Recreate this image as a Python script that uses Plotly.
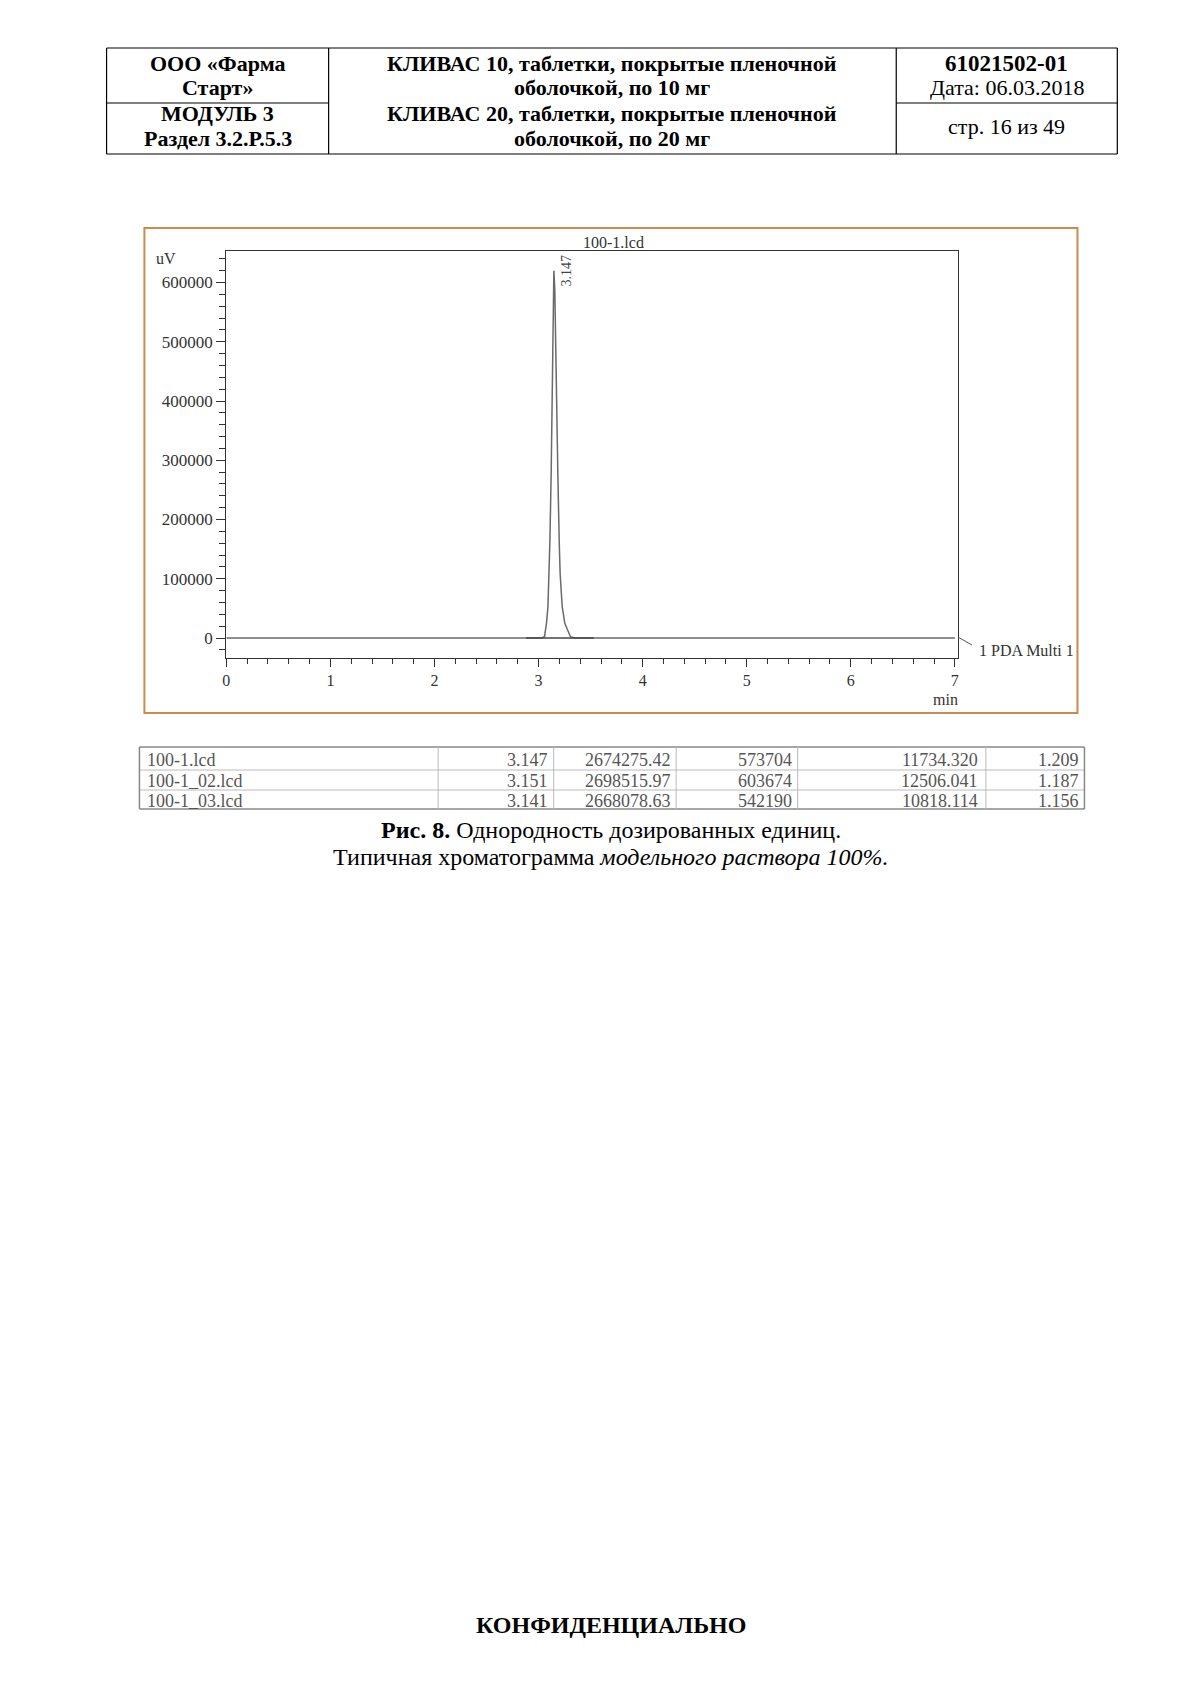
import plotly.graph_objects as go

W, H = 1192, 1685

# ---- chromatogram data ----
time_min = [0.0, 2.88, 3.03, 3.057, 3.076, 3.090, 3.102, 3.109, 3.121, 3.131, 3.137, 3.143, 3.147,
            3.156, 3.162, 3.176, 3.185, 3.198, 3.207, 3.227, 3.252, 3.306, 3.35, 3.53, 7.0]
signal_uv = [0, 0, 0, 2200, 24800, 52800, 109200, 165400, 278000, 390400, 503000, 587300, 620000,
             587300, 503000, 390400, 278000, 165400, 109200, 52800, 24800, 2200, 0, 0, 0]
baseline_t = [2.88, 3.53]
baseline_v = [0, 0]
peak_rt = 3.147
peak_height = 620000

# ---- results table ----
tbl_files = ["100-1.lcd", "100-1_02.lcd", "100-1_03.lcd"]
tbl_rt = ["3.147", "3.151", "3.141"]
tbl_area = ["2674275.42", "2698515.97", "2668078.63"]
tbl_height = ["573704", "603674", "542190"]
tbl_plates = ["11734.320", "12506.041", "10818.114"]
tbl_tailing = ["1.209", "1.187", "1.156"]

SERIF = "Liberation Serif, Times New Roman, serif"


def px(x):
    return x / W


def py(y):
    return 1 - y / H


fig = go.Figure()
fig.add_trace(go.Scatter(x=time_min, y=signal_uv, mode="lines",
                         line=dict(color="#6a6a6a", width=1.5), hoverinfo="skip"))
fig.add_trace(go.Scatter(x=baseline_t, y=baseline_v, mode="lines",
                         line=dict(color="#444444", width=1.5), hoverinfo="skip"))

shapes = []
ann = []


def line(x0, y0, x1, y1, color="black", width=1):
    shapes.append(dict(type="line", xref="paper", yref="paper", x0=px(x0), y0=py(y0),
                       x1=px(x1), y1=py(y1), line=dict(color=color, width=width)))


def text(x, y, s, size=22, bold=False, anchor="center", color="black", yanchor="middle"):
    if bold:
        s = "<b>" + s + "</b>"
    ann.append(dict(xref="paper", yref="paper", x=px(x), y=py(y), text=s, showarrow=False,
                    xanchor=anchor, yanchor=yanchor,
                    font=dict(family=SERIF, size=size, color=color)))


# ---- header table ----
HL, HR, HT, HB, HM = 103, 1118, 48, 154, 103
C1, C2 = 326, 896
line(HL, HT, HR, HT, width=1.2)
line(HL, HB, HR, HB, width=1.2)
line(HL, HT, HL, HB, width=1.2)
line(HR, HT, HR, HB, width=1.2)
line(C1, HT, C1, HB, width=1.2)
line(C2, HT, C2, HB, width=1.2)
line(HL, HM, C1, HM, width=1.2)
line(C2, HM, HR, HM, width=1.2)

text((HL + C1) / 2, 63, "ООО «Фарма", bold=True)
text((HL + C1) / 2, 88, "Старт»", bold=True)
text((HL + C1) / 2, 114, "МОДУЛЬ 3", bold=True)
text((HL + C1) / 2, 139, "Раздел 3.2.Р.5.3", bold=True)
text((C1 + C2) / 2, 63, "КЛИВАС 10, таблетки, покрытые пленочной", bold=True)
text((C1 + C2) / 2, 88, "оболочкой, по 10 мг", bold=True)
text((C1 + C2) / 2, 114, "КЛИВАС 20, таблетки, покрытые пленочной", bold=True)
text((C1 + C2) / 2, 139, "оболочкой, по 20 мг", bold=True)
text((C2 + HR) / 2, 63, "61021502-01", bold=True, size=23)
text((C2 + HR) / 2, 88, "Дата: 06.03.2018")
text((C2 + HR) / 2, 127, "стр. 16 из 49")

# ---- chart frame ----
shapes.append(dict(type="rect", xref="paper", yref="paper", x0=px(141), y0=py(713),
                   x1=px(1078), y1=py(228), line=dict(color="#c98b4f", width=2)))

text(612, 242, "100-1.lcd", size=16, color="#333")
text(151, 259, "uV", size=16, color="#333", anchor="left")
text(945, 699, "min", size=16, color="#333")
line(958, 637, 972, 645, color="#555", width=1)
text(977, 650, "1 PDA Multi 1", size=16, color="#333", anchor="left")

ann.append(dict(xref="x", yref="y", x=peak_rt, y=peak_height, text="3.147", textangle=-90,
                showarrow=False, xanchor="center", yanchor="middle", xshift=13,
                font=dict(family=SERIF, size=14, color="#444")))

# ---- results table ----
TL, TR = 136, 1085
row_lines = [747, 770, 790, 809]
col_lines = [436, 552, 675, 797, 986]
line(TL, row_lines[0], TR, row_lines[0], color="#888", width=1.5)
line(TL, row_lines[-1], TR, row_lines[-1], color="#888", width=1.5)
for r in row_lines[1:-1]:
    line(TL, r, TR, r, color="#bbb", width=1)
line(TL, row_lines[0], TL, row_lines[-1], color="#888", width=1.5)
line(TR, row_lines[0], TR, row_lines[-1], color="#888", width=1.5)
for c in col_lines:
    line(c, row_lines[0], c, row_lines[-1], color="#bbb", width=1)

cols = [tbl_rt, tbl_area, tbl_height, tbl_plates, tbl_tailing]
right_edges = [548, 672, 793, 980, 1082]
for i in range(3):
    yc = (row_lines[i] + row_lines[i + 1]) / 2 + 1
    text(142, yc, tbl_files[i], size=18, color="#555", anchor="left")
    for col, xr in zip(cols, right_edges):
        text(xr, yc, col[i], size=18, color="#555", anchor="right")

# ---- caption ----
text(610, 830, "<b>Рис. 8.</b> Однородность дозированных единиц.", size=24)
text(610, 857, "Типичная хроматограмма <i>модельного раствора 100%.</i>", size=24)

text(610, 1625, "КОНФИДЕНЦИАЛЬНО", bold=True, size=24)

xaxis_font = dict(family=SERIF, size=16, color="#333")
yaxis_font = dict(family=SERIF, size=17, color="#333")
fig.update_layout(
    width=W, height=H,
    margin=dict(l=0, r=0, t=0, b=0),
    paper_bgcolor="white", plot_bgcolor="white",
    showlegend=False,
    shapes=shapes, annotations=ann,
    xaxis=dict(domain=[px(223.3), px(958)], range=[0, 7.03], dtick=1, tick0=0,
               showgrid=False, zeroline=False, showline=True, mirror=True,
               linecolor="#333", linewidth=1.2, ticks="outside", ticklen=8,
               tickcolor="#333", tickwidth=1.2, tickfont=xaxis_font,
               minor=dict(dtick=0.2, ticks="outside", ticklen=5, tickcolor="#333", showgrid=False)),
    yaxis=dict(domain=[py(658), py(251)], range=[-33755, 653165], dtick=100000, tick0=0,
               showgrid=False, zeroline=False, showline=True, mirror=True,
               linecolor="#333", linewidth=1.2, ticks="outside", ticklen=9,
               tickcolor="#333", tickwidth=1.2, tickfont=yaxis_font, tickformat="d",
               minor=dict(dtick=20000, ticks="outside", ticklen=6, tickcolor="#333", showgrid=False)),
)

fig.write_html("out.html")
